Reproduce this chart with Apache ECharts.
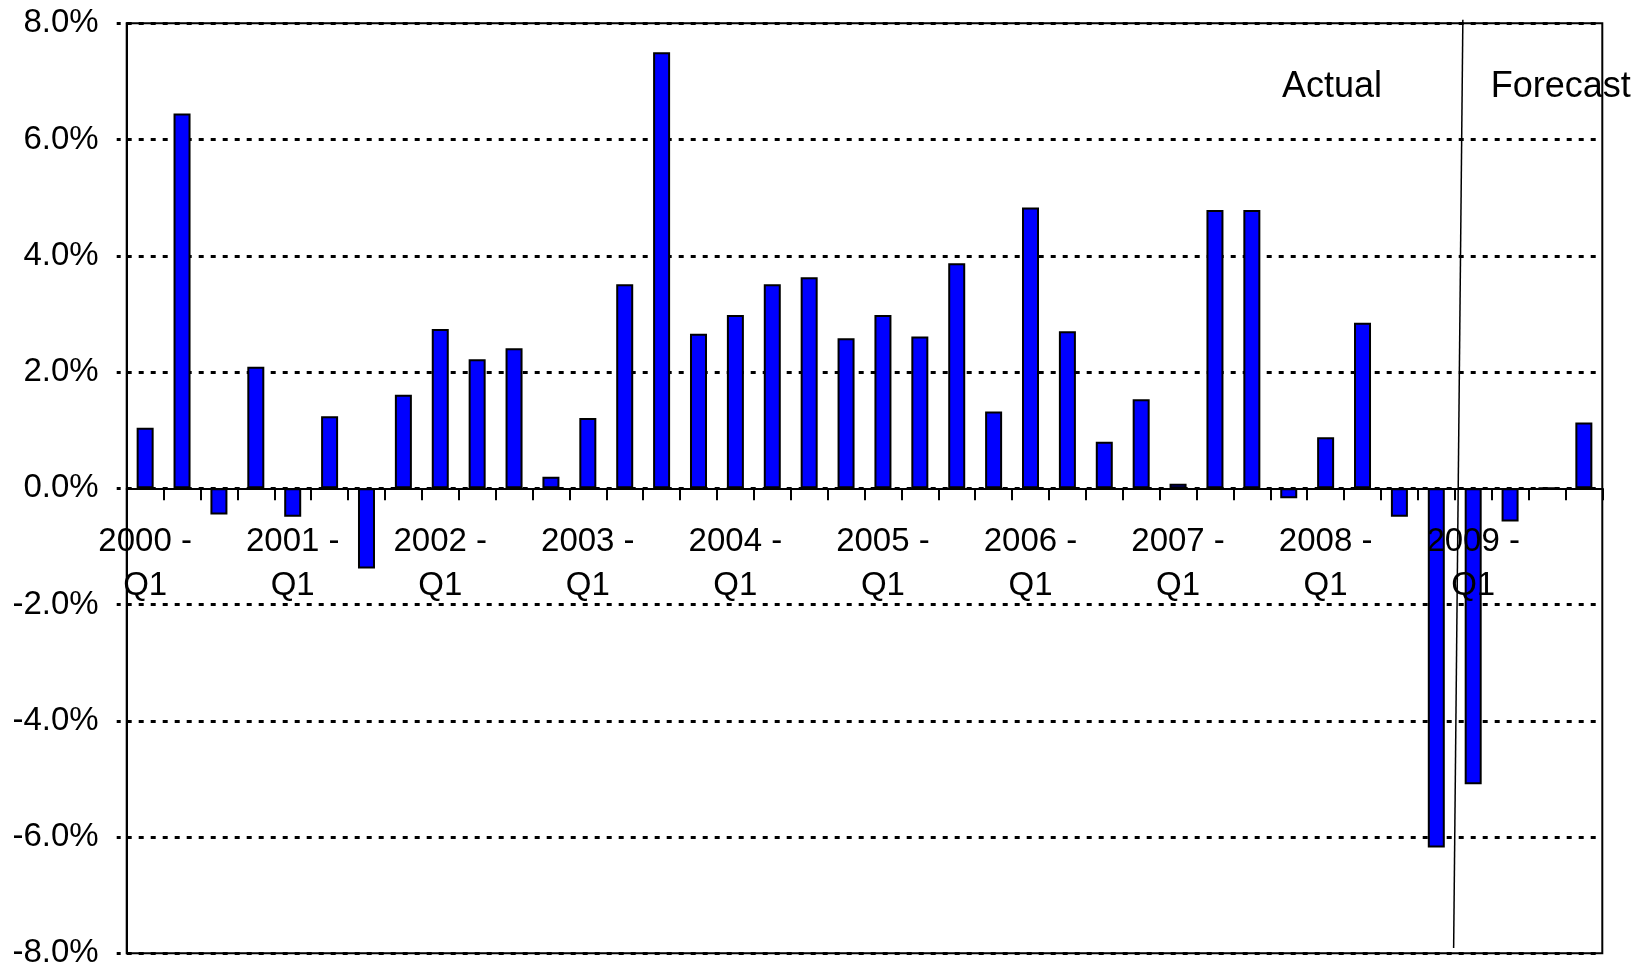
<!DOCTYPE html>
<html>
<head>
<meta charset="utf-8">
<script src="https://cdn.jsdelivr.net/npm/echarts@6/dist/echarts.min.js"></script>
<style>
html,body{margin:0;padding:0;background:#fff;}
#chart{width:1648px;height:970px;}
</style>
</head>
<body>
<div id="chart"></div>
<script>
// Quarterly categories 2000 Q1 .. 2009 Q4
const years = ['2000','2001','2002','2003','2004','2005','2006','2007','2008','2009'];
const quarters = ['Q1','Q2','Q3','Q4'];
const categories = [];
years.forEach(y => quarters.forEach(q => categories.push(y + ' - ' + q)));

// Growth values (%)
const growth = [
  1.04, 6.45, -0.45, 2.09,
  -0.49, 1.24, -1.38, 1.61,
  2.74, 2.22, 2.41, 0.20,
  1.21, 3.51, 7.50, 2.66,
  2.98, 3.51, 3.63, 2.58,
  2.98, 2.61, 3.87, 1.32,
  4.83, 2.70, 0.80, 1.53,
  0.08, 4.79, 4.79, -0.17,
  0.88, 2.85, -0.49, -6.18,
  -5.09, -0.57, 0, 1.13
];

// Y axis ticks
const yMin = -8, yMax = 8, yStep = 2;

// Actual / Forecast divider (x in category-count units, y in %)
const dividerLine = [[36.22, 8.06], [35.97, -7.91]];
const annotations = ['Actual', 'Forecast'];

const FONT = '"Liberation Sans", Arial, sans-serif';

const W = 1648, H = 970;
const gridBox = {left: 126.7, right: 45.7, top: 23.3, bottom: 16.7};
const plotH = H - gridBox.top - gridBox.bottom;
// shift the category axis up from the grid bottom to the zero line
const zeroOffset = -plotH * (0 - yMin) / (yMax - yMin);

const chart = echarts.init(document.getElementById('chart'), null, {renderer: 'canvas', width: W, height: H});
chart.setOption({
  animation: false,
  backgroundColor: '#fff',
  grid: Object.assign({}, gridBox, {
    show: true, borderColor: '#000', borderWidth: 2, backgroundColor: 'transparent',
    containLabel: false, outerBoundsMode: 'none'
  }),
  xAxis: [{
    type: 'category',
    data: categories,
    boundaryGap: true,
    position: 'bottom',
    offset: zeroOffset,
    z: 5,
    axisLine: {onZero: false, lineStyle: {color: '#000', width: 2}},
    axisTick: {show: true, interval: 0, length: 12, lineStyle: {color: '#000', width: 2}},
    axisLabel: {
      interval: 3,
      margin: 32,
      fontSize: 33,
      lineHeight: 43.5,
      color: '#000',
      fontFamily: FONT,
      hideOverlap: false,
      formatter: v => { const p = v.split(' - '); return p[0] + ' -\n' + p[1]; }
    },
    splitLine: {show: false}
  }, {
    type: 'value', min: 0, max: 40, show: false
  }],
  yAxis: {
    type: 'value',
    min: yMin, max: yMax, interval: yStep,
    axisLine: {show: true, onZero: false, lineStyle: {color: '#000', width: 2}},
    axisTick: {show: true, length: 10, lineStyle: {color: '#000', width: 3, type: [4, 6], dashOffset: 4}},
    axisLabel: {
      margin: 28, fontSize: 33, color: '#000', fontFamily: FONT,
      formatter: v => v.toFixed(1) + '%'
    },
    splitLine: {show: true, lineStyle: {color: '#000', width: 3, type: [5, 7]}}
  },
  series: [{
    type: 'bar',
    data: growth,
    barWidth: 17,
    itemStyle: {color: '#0000FF', borderColor: '#000', borderWidth: 2}
  }, {
    type: 'line',
    xAxisIndex: 1,
    data: dividerLine,
    symbol: 'none',
    clip: false,
    silent: true,
    z: 6,
    lineStyle: {color: '#000', width: 1.5}
  }],
  graphic: [{
    type: 'text', x: 1332, y: 87,
    style: {text: annotations[0], fontSize: 36, fontFamily: FONT, fill: '#000', align: 'center', verticalAlign: 'middle'}
  }, {
    type: 'text', x: 1490.7, y: 87,
    style: {text: annotations[1], fontSize: 36, fontFamily: FONT, fill: '#000', align: 'left', verticalAlign: 'middle'}
  }]
});
</script>
</body>
</html>
